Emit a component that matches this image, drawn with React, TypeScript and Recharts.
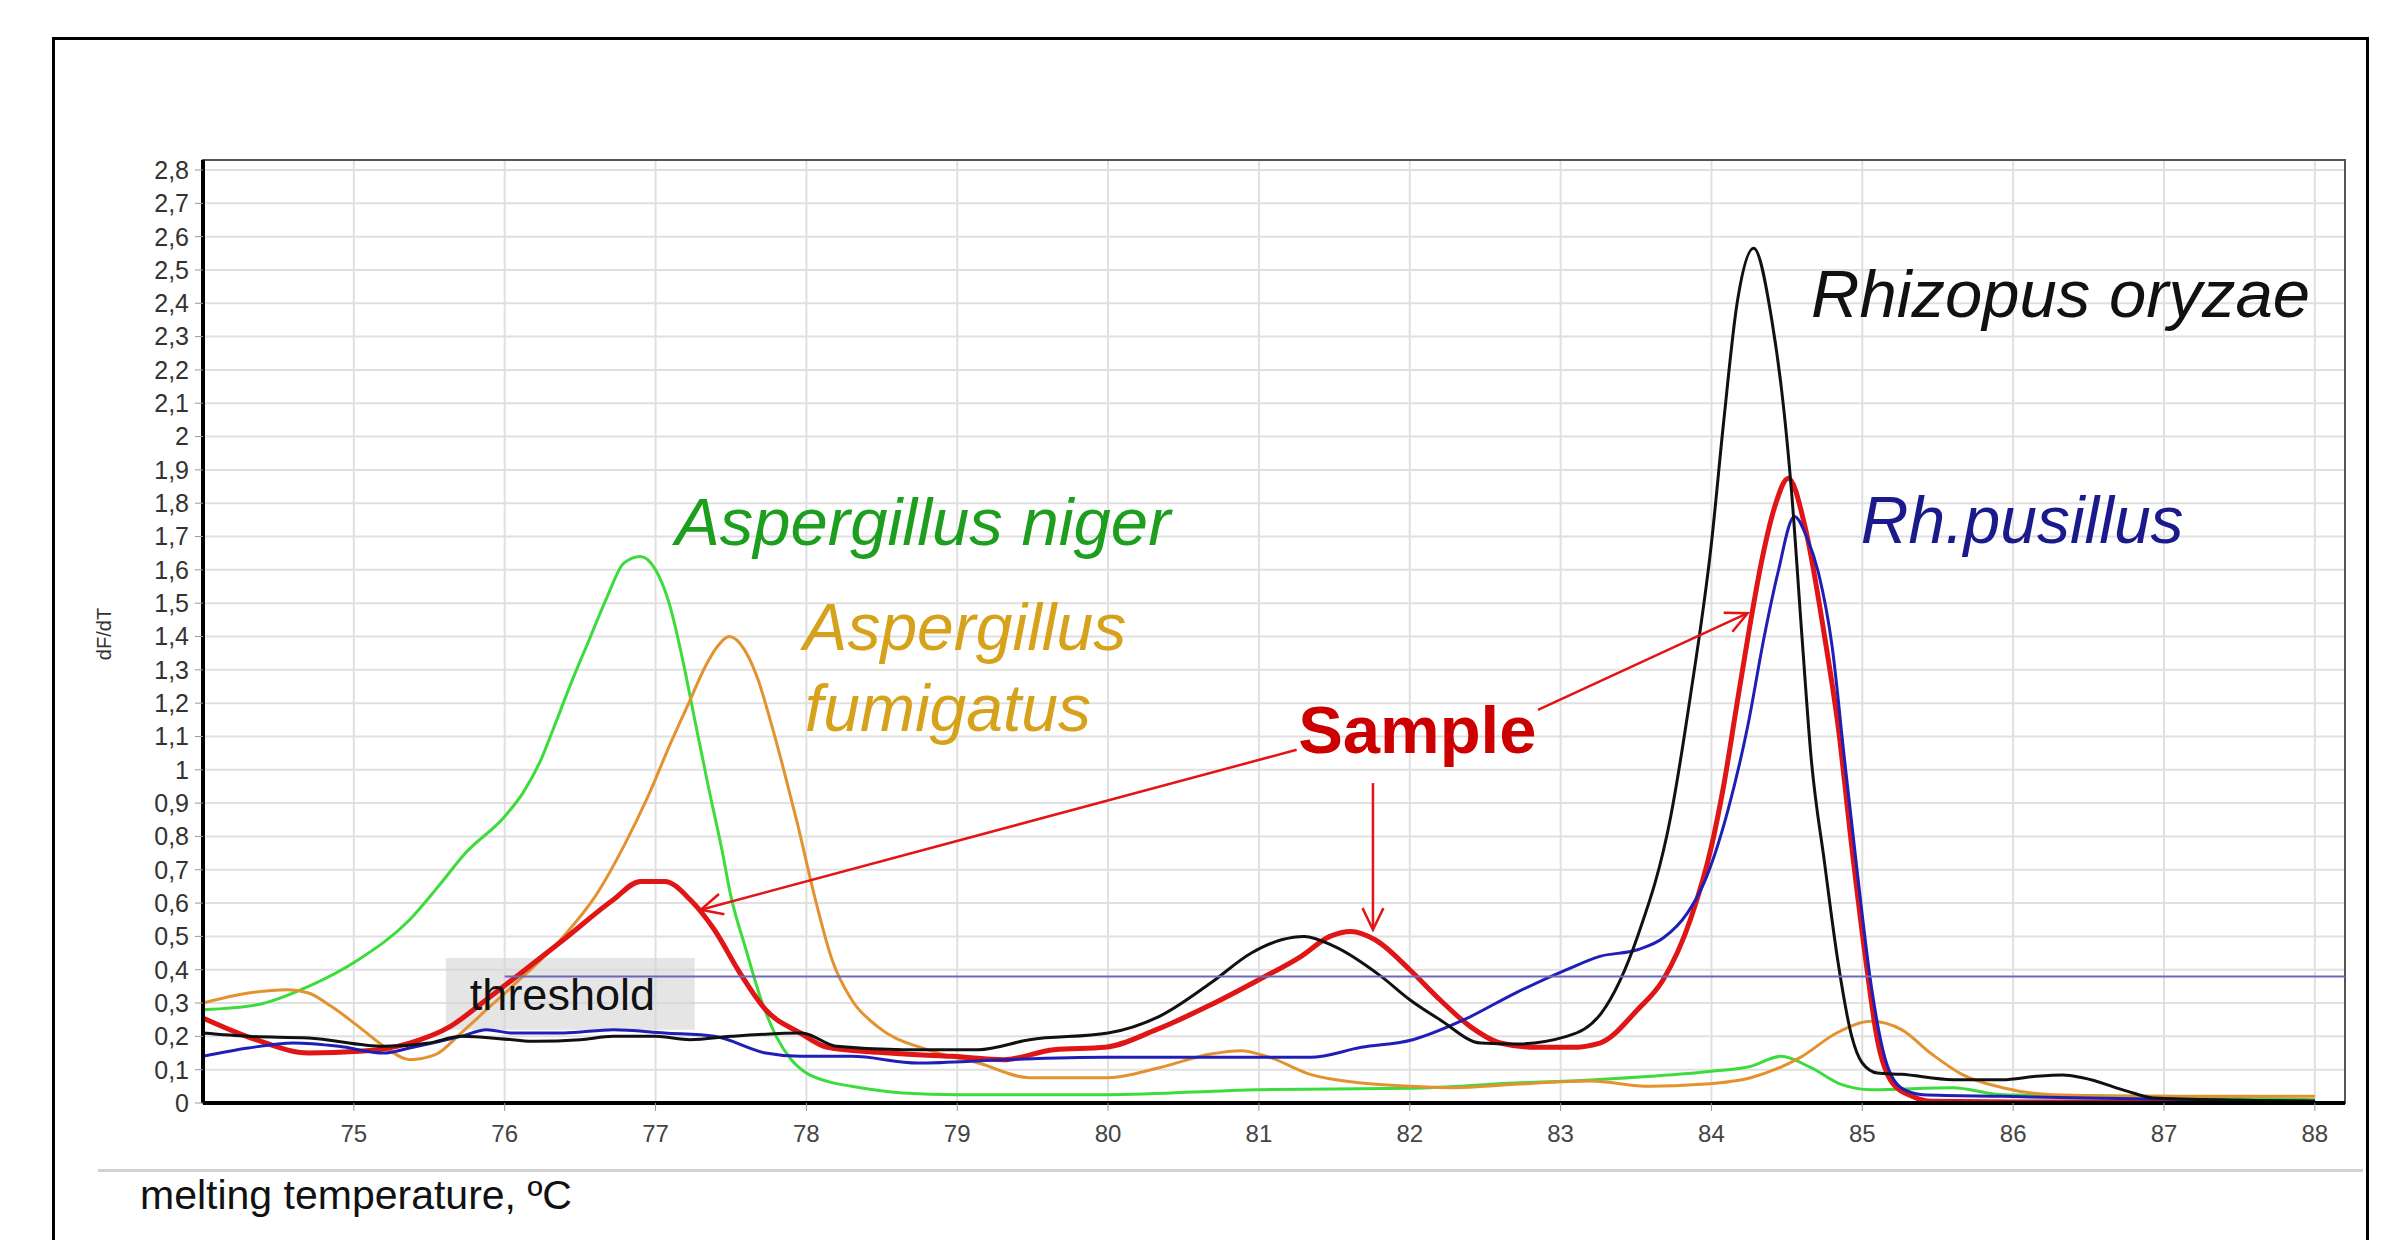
import {
  LineChart,
  Line,
  XAxis,
  YAxis,
  CartesianGrid,
  ReferenceLine,
  ReferenceArea,
  ReferenceDot
} from 'recharts';

// melting curves, [temperature °C, dF/dT]
const asperNiger: [number, number][] = [
  [74.0, 0.28], [74.36, 0.295], [74.7, 0.35], [75.03, 0.43], [75.37, 0.55], [75.56, 0.65],
  [75.74, 0.75], [76.0, 0.86], [76.12, 0.93], [76.24, 1.03], [76.32, 1.12], [76.44, 1.26],
  [76.56, 1.39], [76.68, 1.52], [76.79, 1.62], [76.9, 1.64], [77.0, 1.6], [77.09, 1.5],
  [77.18, 1.33], [77.26, 1.15], [77.35, 0.95], [77.44, 0.76], [77.5, 0.62], [77.6, 0.46],
  [77.7, 0.31], [77.8, 0.2], [77.9, 0.13], [78.0, 0.09], [78.14, 0.065], [78.3, 0.05],
  [78.64, 0.03], [79.0, 0.025], [80.0, 0.025], [81.0, 0.04], [82.0, 0.044], [82.7, 0.06],
  [83.23, 0.07], [83.6, 0.08], [84.0, 0.095], [84.26, 0.11], [84.46, 0.14], [84.66, 0.106],
  [84.86, 0.056], [85.06, 0.04], [85.6, 0.046], [85.93, 0.025], [87.0, 0.02], [88.0, 0.01]
];

const asperFumigatus: [number, number][] = [
  [74.0, 0.3], [74.3, 0.33], [74.56, 0.34], [74.7, 0.33], [74.85, 0.29], [75.03, 0.23],
  [75.2, 0.17], [75.37, 0.13], [75.54, 0.145], [75.71, 0.21], [75.88, 0.28], [76.05, 0.35],
  [76.39, 0.5], [76.6, 0.62], [76.8, 0.78], [76.95, 0.92], [77.1, 1.08], [77.22, 1.2],
  [77.33, 1.31], [77.41, 1.37], [77.49, 1.4], [77.59, 1.36], [77.68, 1.27], [77.76, 1.15],
  [77.85, 1.0], [77.94, 0.84], [78.06, 0.61], [78.17, 0.43], [78.3, 0.31], [78.47, 0.23],
  [78.8, 0.16], [79.14, 0.12], [79.48, 0.076], [80.0, 0.076], [80.34, 0.106], [80.68, 0.147],
  [80.88, 0.157], [81.07, 0.137], [81.34, 0.086], [81.68, 0.06], [82.02, 0.05], [82.29, 0.046],
  [82.7, 0.056], [83.2, 0.066], [83.59, 0.05], [83.93, 0.056], [84.26, 0.076], [84.59, 0.137],
  [84.83, 0.21], [85.06, 0.245], [85.26, 0.22], [85.46, 0.147], [85.66, 0.086], [85.93, 0.046],
  [86.26, 0.025], [87.0, 0.02], [88.0, 0.02]
];

const rhOryzae: [number, number][] = [
  [74.0, 0.21], [74.3, 0.2], [74.7, 0.195], [75.2, 0.17], [75.5, 0.18], [75.71, 0.2],
  [76.05, 0.19], [76.2, 0.185], [76.5, 0.19], [76.72, 0.2], [77.0, 0.2], [77.23, 0.19],
  [77.5, 0.2], [77.97, 0.21], [78.2, 0.17], [78.64, 0.16], [79.14, 0.16], [79.48, 0.19],
  [80.0, 0.21], [80.34, 0.26], [80.68, 0.36], [80.95, 0.45], [81.15, 0.49], [81.3, 0.5],
  [81.5, 0.47], [81.81, 0.38], [82.0, 0.31], [82.2, 0.25], [82.47, 0.18], [82.7, 0.177],
  [83.04, 0.2], [83.27, 0.27], [83.51, 0.5], [83.73, 0.86], [83.86, 1.22], [84.0, 1.68],
  [84.08, 2.04], [84.17, 2.4], [84.28, 2.565], [84.4, 2.35], [84.48, 2.08], [84.53, 1.84],
  [84.6, 1.4], [84.66, 1.04], [84.75, 0.72], [84.84, 0.42], [84.93, 0.2], [85.0, 0.12],
  [85.1, 0.09], [85.26, 0.086], [85.6, 0.07], [85.93, 0.07], [86.15, 0.08], [86.33, 0.084],
  [86.46, 0.076], [86.76, 0.035], [86.93, 0.015], [87.5, 0.008], [88.0, 0.005]
];

const sample: [number, number][] = [
  [74.0, 0.255], [74.35, 0.19], [74.7, 0.15], [75.04, 0.155], [75.37, 0.18], [75.64, 0.23],
  [75.85, 0.3], [76.05, 0.37], [76.39, 0.49], [76.72, 0.61], [76.9, 0.665], [77.06, 0.665],
  [77.23, 0.61], [77.39, 0.52], [77.56, 0.39], [77.73, 0.28], [77.96, 0.21], [78.14, 0.167],
  [78.47, 0.152], [78.97, 0.14], [79.31, 0.13], [79.64, 0.16], [79.98, 0.167], [80.32, 0.22],
  [80.66, 0.29], [81.0, 0.37], [81.28, 0.44], [81.47, 0.5], [81.61, 0.515], [81.77, 0.49],
  [82.0, 0.4], [82.2, 0.31], [82.4, 0.23], [82.6, 0.18], [82.84, 0.167], [83.07, 0.167],
  [83.26, 0.18], [83.51, 0.28], [83.68, 0.37], [83.86, 0.55], [84.0, 0.77], [84.08, 0.95],
  [84.17, 1.2], [84.25, 1.42], [84.33, 1.62], [84.42, 1.79], [84.51, 1.875], [84.62, 1.73],
  [84.75, 1.4], [84.84, 1.13], [84.93, 0.77], [85.02, 0.44], [85.1, 0.19], [85.2, 0.06],
  [85.33, 0.02], [85.46, 0.005], [86.0, 0.003], [88.0, 0.003]
];

const rhPusillus: [number, number][] = [
  [74.0, 0.14], [74.3, 0.165], [74.6, 0.18], [74.9, 0.17], [75.2, 0.15], [75.37, 0.165],
  [75.71, 0.2], [75.88, 0.22], [76.05, 0.21], [76.39, 0.21], [76.72, 0.22], [77.06, 0.21],
  [77.39, 0.2], [77.73, 0.15], [77.96, 0.14], [78.3, 0.14], [78.74, 0.12], [79.31, 0.13],
  [79.98, 0.137], [80.66, 0.137], [81.34, 0.137], [81.68, 0.167], [82.02, 0.19], [82.36, 0.25],
  [82.7, 0.33], [83.04, 0.4], [83.26, 0.44], [83.51, 0.46], [83.68, 0.495], [83.84, 0.57],
  [83.95, 0.66], [84.11, 0.88], [84.24, 1.13], [84.35, 1.4], [84.44, 1.59], [84.55, 1.76],
  [84.63, 1.7], [84.71, 1.59], [84.8, 1.37], [84.88, 1.04], [84.97, 0.68], [85.06, 0.35],
  [85.15, 0.135], [85.26, 0.045], [85.4, 0.025], [85.93, 0.02], [86.5, 0.015], [87.2, 0.01],
  [88.0, 0.005]
];

const thresholdValue = 0.38;

const xTicks = [75, 76, 77, 78, 79, 80, 81, 82, 83, 84, 85, 86, 87, 88];
const yTicks = [
  0, 0.1, 0.2, 0.3, 0.4, 0.5, 0.6, 0.7, 0.8, 0.9, 1, 1.1, 1.2, 1.3, 1.4,
  1.5, 1.6, 1.7, 1.8, 1.9, 2, 2.1, 2.2, 2.3, 2.4, 2.5, 2.6, 2.7, 2.8
];

const FONT = '"Liberation Sans", Arial, sans-serif';

const rows = (pts: [number, number][]) => pts.map(([t, v]) => ({ t, v }));

// red annotation arrow, head at (x2, y2)
const Arrow = (props: any) => {
  const { x1, y1, x2, y2 } = props;
  const a = Math.atan2(y2 - y1, x2 - x1);
  const len = 24;
  const spread = 0.45;
  const ax = x2 - len * Math.cos(a - spread);
  const ay = y2 - len * Math.sin(a - spread);
  const bx = x2 - len * Math.cos(a + spread);
  const by = y2 - len * Math.sin(a + spread);
  return (
    <g stroke="#e31414" strokeWidth={2.5} fill="none">
      <line x1={x1} y1={y1} x2={x2} y2={y2} />
      <polyline points={`${ax},${ay} ${x2},${y2} ${bx},${by}`} />
    </g>
  );
};

const note = (text: string, color: string, size: number, bold = false, italic = true) =>
  (p: any) => (
    <text
      x={p.cx}
      y={p.cy}
      fill={color}
      fontSize={size}
      fontFamily={FONT}
      fontStyle={italic ? 'italic' : 'normal'}
      fontWeight={bold ? 'bold' : 'normal'}
    >
      {text}
    </text>
  );

export default function App() {
  return (
    <div style={{ position: 'absolute', left: 0, top: 0, width: 2394, height: 1240, background: '#fff', overflow: 'hidden' }}>
      <div style={{ position: 'absolute', left: 52, top: 37, width: 2311, height: 1300, border: '3px solid #000' }} />
      <div style={{ position: 'absolute', left: 98, top: 1169, width: 2265, height: 3, background: '#d2d2d2' }} />
      <div style={{ position: 'absolute', left: 140, top: 1170, fontFamily: FONT, fontSize: 41, color: '#111', lineHeight: '50px' }}>
        melting temperature, ºC
      </div>
      <div
        style={{
          position: 'absolute', left: 104, top: 634, fontFamily: FONT, fontSize: 20, color: '#333',
          transform: 'translate(-50%, -50%) rotate(-90deg)', whiteSpace: 'nowrap'
        }}
      >
        dF/dT
      </div>

      <div style={{ position: 'absolute', left: 0, top: 0 }}>
        <LineChart width={2394} height={1240} margin={{ top: 160, right: 49, bottom: 77, left: 103 }}>
          <CartesianGrid stroke="#e0e0e0" strokeWidth={2} />
          <XAxis
            dataKey="t"
            type="number"
            domain={[74, 88.2]}
            ticks={xTicks}
            allowDataOverflow
            height={60}
            interval={0}
            axisLine={{ stroke: '#000', strokeWidth: 4 }}
            tickLine={{ stroke: '#999' }}
            tickSize={8}
            tickMargin={14}
            tick={{ fill: '#444', fontSize: 24, fontFamily: FONT }}
          />
          <YAxis
            type="number"
            domain={[0, 2.83]}
            ticks={yTicks}
            allowDataOverflow
            width={100}
            interval={0}
            axisLine={{ stroke: '#000', strokeWidth: 4 }}
            tickLine={{ stroke: '#999' }}
            tickSize={8}
            tickMargin={6}
            tick={{ fill: '#333', fontSize: 25, fontFamily: FONT }}
            tickFormatter={(v: number) => String(v).replace('.', ',')}
          />
          <ReferenceArea x1={74} x2={88.2} y1={0} y2={2.83} fill="none" stroke="#555" strokeWidth={2} />

          <Line data={rows(asperNiger)} dataKey="v" type="monotone" stroke="#3ddc3d" strokeWidth={3} dot={false} isAnimationActive={false} />
          <Line data={rows(asperFumigatus)} dataKey="v" type="monotone" stroke="#e3922f" strokeWidth={3} dot={false} isAnimationActive={false} />
          <Line data={rows(sample)} dataKey="v" type="monotone" stroke="#e01515" strokeWidth={5} dot={false} isAnimationActive={false} />
          <Line data={rows(rhPusillus)} dataKey="v" type="monotone" stroke="#1f1fb8" strokeWidth={3} dot={false} isAnimationActive={false} />
          <Line data={rows(rhOryzae)} dataKey="v" type="monotone" stroke="#111" strokeWidth={3} dot={false} isAnimationActive={false} />

          <ReferenceLine
            segment={[{ x: 76, y: thresholdValue }, { x: 88.2, y: thresholdValue }]}
            stroke="#6a6ab8"
            strokeWidth={2}
          />
          <ReferenceArea
            x1={75.61}
            x2={77.26}
            y1={0.22}
            y2={0.435}
            fill="#d4d4d4"
            fillOpacity={0.6}
            stroke="none"
            label={{ value: 'threshold', position: 'insideLeft', offset: 24, fill: '#111', fontSize: 45, fontFamily: FONT }}
          />

          <ReferenceLine segment={[{ x: 81.25, y: 1.06 }, { x: 77.3, y: 0.58 }]} shape={Arrow} ifOverflow="visible" />
          <ReferenceLine segment={[{ x: 81.756, y: 0.96 }, { x: 81.756, y: 0.52 }]} shape={Arrow} ifOverflow="visible" />
          <ReferenceLine segment={[{ x: 82.85, y: 1.18 }, { x: 84.24, y: 1.47 }]} shape={Arrow} ifOverflow="visible" />

          <ReferenceDot x={77.13} y={1.674} r={0} ifOverflow="visible" shape={note('Aspergillus niger', '#1e9e1e', 67)} />
          <ReferenceDot x={77.98} y={1.36} r={0} ifOverflow="visible" shape={note('Aspergillus', '#d6a21c', 66)} />
          <ReferenceDot x={77.99} y={1.115} r={0} ifOverflow="visible" shape={note('fumigatus', '#d6a21c', 66)} />
          <ReferenceDot x={81.26} y={1.05} r={0} ifOverflow="visible" shape={note('Sample', '#cc0000', 67, true, false)} />
          <ReferenceDot x={84.66} y={2.36} r={0} ifOverflow="visible" shape={note('Rhizopus oryzae', '#111', 67)} />
          <ReferenceDot x={84.99} y={1.68} r={0} ifOverflow="visible" shape={note('Rh.pusillus', '#1a1a8c', 66)} />
        </LineChart>
      </div>
    </div>
  );
}
